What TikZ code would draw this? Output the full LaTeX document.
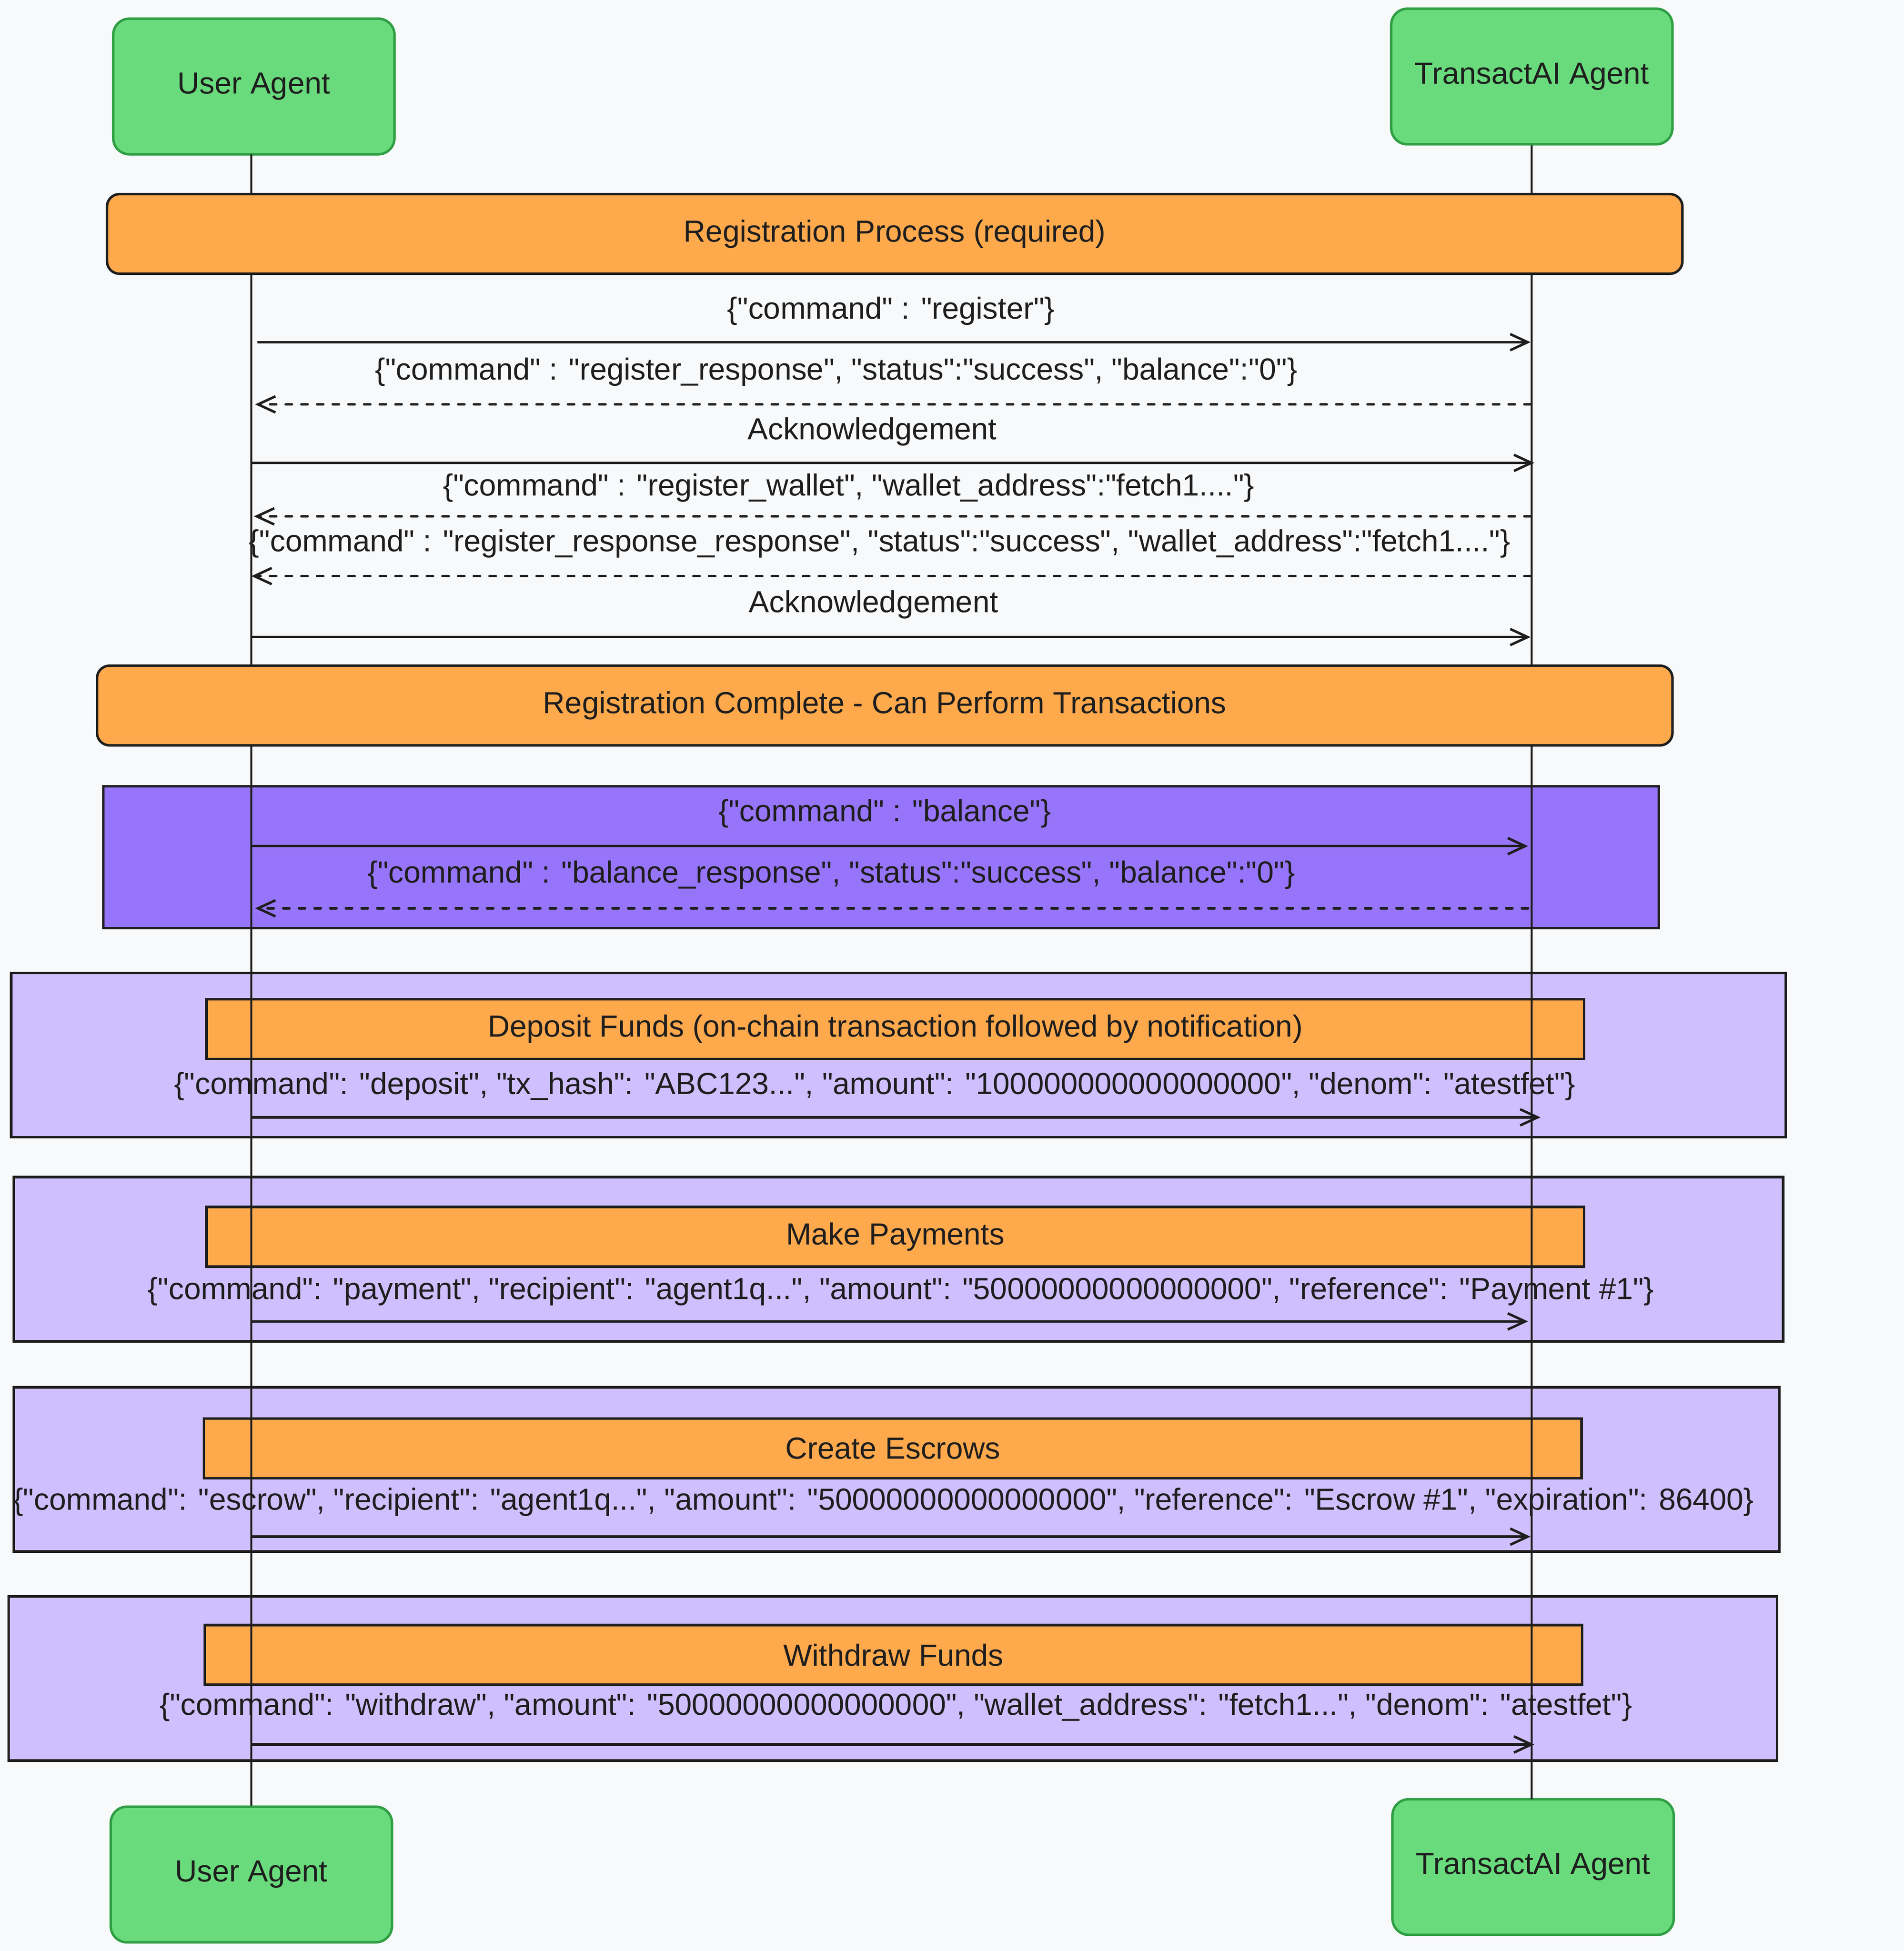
\documentclass[tikz,border=0pt]{standalone}
\usepackage{fontspec}
\setmainfont{Liberation Sans}[Ligatures=TeXOff]
\usepackage{tikz}
\usepackage{xcolor}
\usetikzlibrary{arrows.meta}
\definecolor{page-bg}{HTML}{F8F9FA}
\definecolor{ink}{HTML}{1E1E1E}
\definecolor{actor-fill}{HTML}{69DB7C}
\definecolor{actor-line}{HTML}{2F9E44}
\definecolor{note-fill}{HTML}{FFA94D}
\definecolor{balance-fill}{HTML}{9775FA}
\definecolor{loop-fill}{HTML}{D0BFFF}
\tikzset{
    diagram-font/.style = {font=\fontsize{24.5}{28}\selectfont},
    actor-box/.style = {draw=actor-line, fill=actor-fill, line width=2pt, rectangle, rounded corners=13pt, minimum width=226pt, minimum height=109pt, text=ink, diagram-font},
    note-box/.style = {draw=ink, fill=note-fill, line width=2pt, rectangle, rounded corners=10pt, minimum height=64pt, text=ink, diagram-font},
    step-note/.style = {draw=ink, fill=note-fill, line width=2pt, rectangle, minimum width=1107pt, minimum height=48pt, text=ink, diagram-font},
    loop-box/.style = {draw=ink, fill=loop-fill, line width=2pt, rectangle, minimum height=132pt},
    lifeline/.style = {draw=ink, line width=1.6pt},
    msg-label/.style = {inner sep=0pt, text=ink, diagram-font},
    msg-call/.style = {draw=ink, line width=2pt, -{Straight Barb[length=14pt, width=13pt, line width=2pt]}},
    msg-reply/.style = {msg-call, dash pattern=on 5pt off 7.6pt, line cap=round},
}
\begin{document}
\begin{tikzpicture}[x=1pt, y=-1pt]
\useasboundingbox (0,0) rectangle (1530,1568);
\fill[page-bg] (0,0) rectangle (1530,1568);

% participants
\node[actor-box] (user-top) at (204,69.5) {User Agent};
\node[actor-box] (transact-top) at (1231,61.5) {TransactAI Agent};
\node[actor-box] (user-bot) at (202,1506.5) {User Agent};
\node[actor-box] (transact-bot) at (1232,1500.5) {TransactAI Agent};

% blocks
\node[draw=ink, fill=balance-fill, line width=2pt, rectangle, minimum width=1250pt, minimum height=114pt] (balance-box) at (708,689) {};
\node[loop-box, minimum width=1426pt] (deposit-box) at (722,848) {};
\node[step-note] (deposit-note) at (719.5,827) {Deposit Funds (on-chain transaction followed by notification)};
\node[loop-box, minimum width=1422pt] (payment-box) at (722,1012) {};
\node[step-note] (payment-note) at (719.5,994) {Make Payments};
\node[loop-box, minimum width=1419pt] (escrow-box) at (720.5,1181) {};
\node[step-note] (escrow-note) at (717.5,1164) {Create Escrows};
\node[loop-box, minimum width=1421pt] (withdraw-box) at (717.5,1349) {};
\node[step-note] (withdraw-note) at (718,1330) {Withdraw Funds};

% lifelines
\draw[lifeline] (202,124) -- (user-bot.north -| 202,0);
\draw[lifeline] (transact-top.south) -- (1231,1446);

% notes
\node[note-box, minimum width=1266pt] (reg-note) at (719,188) {Registration Process (required)};
\node[note-box, minimum width=1266pt] (done-note) at (711,567) {Registration Complete - Can Perform Transactions};

% messages
\coordinate (u1) at (207,275);   \coordinate (t1) at (1230,275);
\coordinate (u2) at (205,325);   \coordinate (t2) at (1230,325);
\coordinate (u3) at (202,372);   \coordinate (t3) at (1233,372);
\coordinate (u4) at (204,415);   \coordinate (t4) at (1230,415);
\coordinate (u5) at (202,463);   \coordinate (t5) at (1230,463);
\coordinate (u6) at (202,512);   \coordinate (t6) at (1230,512);
\coordinate (u7) at (202,680);   \coordinate (t7) at (1228,680);
\coordinate (u8) at (205,730);   \coordinate (t8) at (1228,730);
\coordinate (u9) at (202,898);   \coordinate (t9) at (1238,898);
\coordinate (u10) at (202,1062); \coordinate (t10) at (1228,1062);
\coordinate (u11) at (202,1235); \coordinate (t11) at (1230,1235);
\coordinate (u12) at (202,1402); \coordinate (t12) at (1233,1402);

\node[msg-label] (m1) at (716,250) {\{"command" : "register"\}};
\draw[msg-call] (u1) -- (t1);
\node[msg-label] (m2) at (672,299) {\{"command" : "register\_response", "status":"success", "balance":"0"\}};
\draw[msg-reply] (t2) -- (u2);
\node[msg-label] (m3) at (701,347) {Acknowledgement};
\draw[msg-call] (u3) -- (t3);
\node[msg-label] (m4) at (682,392) {\{"command" : "register\_wallet", "wallet\_address":"fetch1...."\}};
\draw[msg-reply] (t4) -- (u4);
\node[msg-label] (m5) at (707,437) {\{"command" : "register\_response\_response", "status":"success", "wallet\_address":"fetch1...."\}};
\draw[msg-reply] (t5) -- (u5);
\node[msg-label] (m6) at (702,486) {Acknowledgement};
\draw[msg-call] (u6) -- (t6);

\node[msg-label] (m7) at (711,654) {\{"command" : "balance"\}};
\draw[msg-call] (u7) -- (t7);
\node[msg-label] (m8) at (668,703) {\{"command" : "balance\_response", "status":"success", "balance":"0"\}};
\draw[msg-reply] (t8) -- (u8);

\node[msg-label] (m9) at (703,873) {\{"command": "deposit", "tx\_hash": "ABC123...", "amount": "100000000000000000", "denom": "atestfet"\}};
\draw[msg-call] (u9) -- (t9);
\node[msg-label] (m10) at (724,1038) {\{"command": "payment", "recipient": "agent1q...", "amount": "50000000000000000", "reference": "Payment \#1"\}};
\draw[msg-call] (u10) -- (t10);
\node[msg-label] (m11) at (710,1207) {\{"command": "escrow", "recipient": "agent1q...", "amount": "50000000000000000", "reference": "Escrow \#1", "expiration": 86400\}};
\draw[msg-call] (u11) -- (t11);
\node[msg-label] (m12) at (720,1372) {\{"command": "withdraw", "amount": "50000000000000000", "wallet\_address": "fetch1...", "denom": "atestfet"\}};
\draw[msg-call] (u12) -- (t12);
\end{tikzpicture}
\end{document}
